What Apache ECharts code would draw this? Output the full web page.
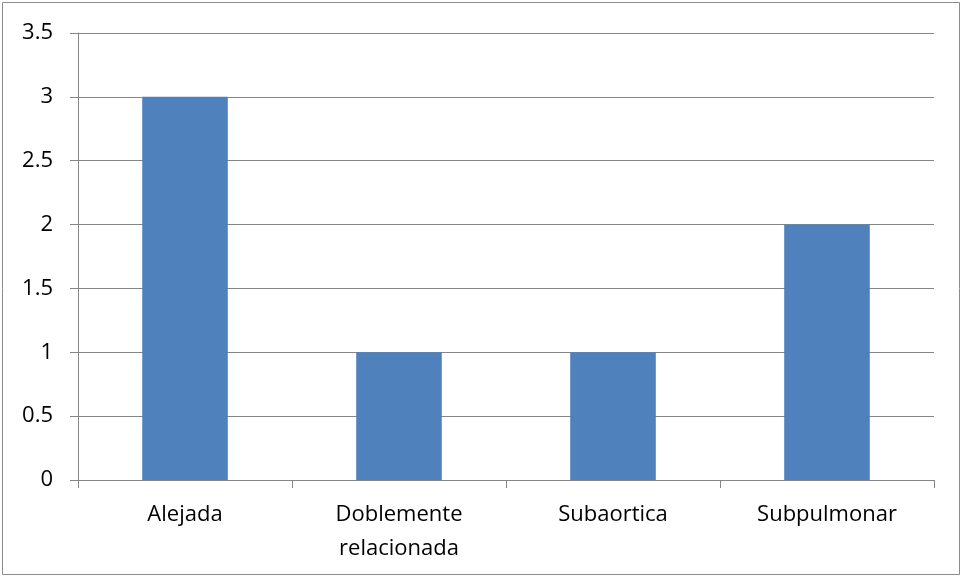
<!DOCTYPE html>
<html>
<head>
    <meta charset="utf-8">
    <title>chart</title>
    <style>
        html, body { margin: 0; padding: 0; background: #fff; }
        #chart { width: 962px; height: 578px; }
    </style>
</head>
<body>
    <div id="chart"></div>
<script src="https://cdn.jsdelivr.net/npm/echarts@6/dist/echarts.min.js"></script>
<script>
    var categories = ['Alejada', 'Doblemente\nrelacionada', 'Subaortica', 'Subpulmonar'];
    var values = [3, 1, 1, 2];

    var myChart = echarts.init(document.getElementById('chart'));
    var option = {
        animation: false,
        textStyle: { fontFamily: 'Open Sans, Liberation Sans, sans-serif' },
        graphic: [{
            type: 'rect',
            shape: { x: 2.5, y: 2.5, width: 957, height: 572 },
            style: { fill: 'none', stroke: '#8c8c8c', lineWidth: 1 }
        }],
        grid: { left: 78, right: 28, top: 33, bottom: 98 },
        xAxis: {
            type: 'category',
            data: categories,
            axisLine: { lineStyle: { color: '#868686', width: 1 } },
            axisTick: { show: true, alignWithLabel: false, length: 8, lineStyle: { color: '#868686' } },
            axisLabel: { color: '#000', fontSize: 22, margin: 18, lineHeight: 34 }
        },
        yAxis: {
            type: 'value',
            min: 0,
            max: 3.5,
            interval: 0.5,
            axisLine: { show: true, lineStyle: { color: '#868686', width: 1 } },
            axisTick: { show: true, length: 8, lineStyle: { color: '#868686' } },
            splitLine: { lineStyle: { color: '#868686', width: 1 } },
            axisLabel: { color: '#000', fontSize: 22, margin: 25 }
        },
        series: [{
            type: 'bar',
            data: values,
            barWidth: '40%',
            itemStyle: { color: '#4f81bd' }
        }]
    };
    myChart.setOption(option);
</script>
</body>
</html>
